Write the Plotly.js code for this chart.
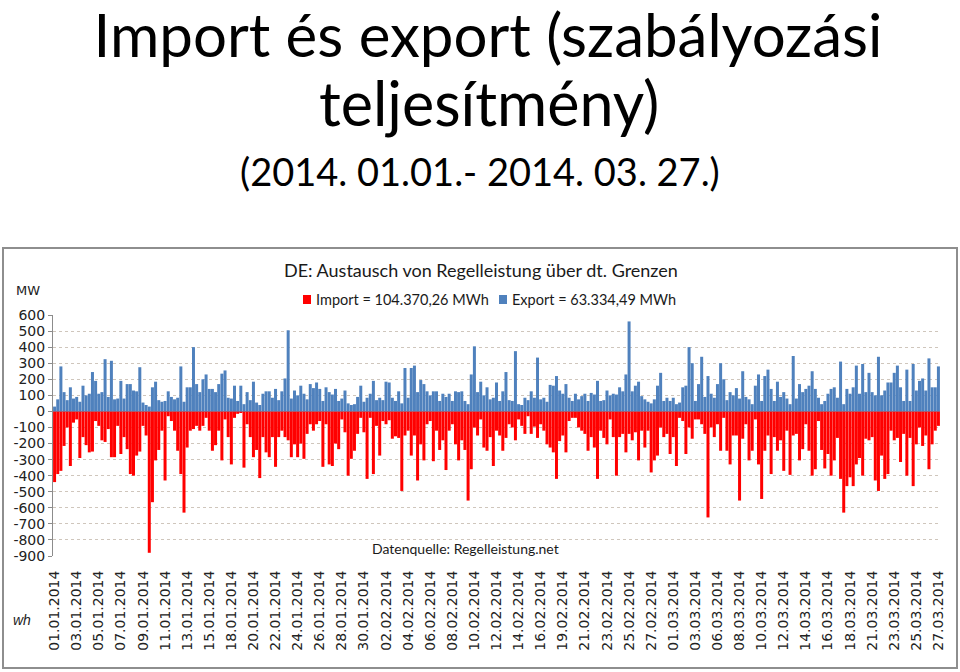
<!DOCTYPE html>
<html>
<head>
<meta charset="utf-8">
<script src="https://cdn.plot.ly/plotly-3.0.1.min.js"></script>
<style>
html,body{margin:0;padding:0;background:#fff;}
#chart{width:960px;height:672px;}
</style>
</head>
<body>
<div id="chart"></div>
<script>
// Tick labels (every 7th category)
const dateLabels = ['01.01.2014','03.01.2014','05.01.2014','07.01.2014','09.01.2014','11.01.2014','13.01.2014','15.01.2014','18.01.2014','20.01.2014','22.01.2014','24.01.2014','26.01.2014','28.01.2014','30.01.2014','02.02.2014','04.02.2014','06.02.2014','08.02.2014','10.02.2014','12.02.2014','14.02.2014','16.02.2014','19.02.2014','21.02.2014','23.02.2014','25.02.2014','27.02.2014','01.03.2014','03.03.2014','06.03.2014','08.03.2014','10.03.2014','12.03.2014','14.03.2014','16.03.2014','18.03.2014','21.03.2014','23.03.2014','25.03.2014','27.03.2014'];
const yTicks = [600,500,400,300,200,100,0,-100,-200,-300,-400,-500,-600,-700,-800,-900];

// Export (MW, positive)
const exportMW = [
30,75,280,120,70,150,80,90,60,160,
100,110,245,190,110,120,325,90,315,75,
80,190,80,170,170,130,125,275,55,40,
30,150,185,70,60,65,125,90,75,85,
280,60,150,150,400,170,120,200,230,140,
140,120,170,235,255,85,80,160,65,160,
45,120,70,185,55,40,110,125,125,85,
140,70,125,205,505,80,130,100,160,110,
75,170,145,180,140,65,150,120,105,140,
65,80,130,50,40,45,90,160,60,85,
110,190,70,85,70,185,180,85,65,125,
50,270,85,270,285,120,195,170,125,100,
125,125,65,110,90,110,65,125,120,125,
65,45,230,405,120,185,100,150,75,85,
180,65,125,245,70,65,375,45,40,85,
70,125,85,335,75,85,60,165,160,220,
130,110,170,85,65,110,75,95,110,65,
115,105,190,65,70,130,100,110,105,150,
125,230,560,125,160,185,95,75,60,50,
75,160,240,65,85,65,85,45,55,150,
160,400,300,65,170,340,90,220,110,85,
170,300,200,70,120,100,145,80,250,90,
75,45,160,230,65,220,260,140,65,185,
90,120,80,45,345,80,170,120,140,160,
250,140,85,45,65,110,140,150,85,310,
45,140,110,150,285,110,295,120,240,120,
100,340,100,130,180,180,240,285,150,65,
260,65,295,130,190,205,130,330,150,150,
280];

// Import (MW, negative)
const importMW = [
-440,-390,-370,-215,-100,-340,-70,-50,-290,-160,
-210,-255,-250,-60,-90,-180,-190,-110,-285,-285,
-90,-265,-160,-235,-390,-400,-275,-250,-90,-150,
-880,-565,-305,-240,-120,-430,-30,-60,-120,-245,
-390,-630,-225,-120,-110,-90,-120,-90,-40,-120,
-245,-210,-120,-305,-50,-160,-330,-40,-15,-10,
-350,-80,-160,-285,-240,-415,-160,-255,-285,-160,
-345,-160,-120,-160,-180,-285,-205,-285,-200,-295,
-140,-80,-120,-80,-60,-345,-80,-330,-340,-200,
-235,-50,-130,-400,-295,-245,-140,-40,-130,-420,
-40,-390,-90,-275,-60,-80,-55,-170,-155,-165,
-495,-150,-120,-275,-150,-430,-205,-305,-80,-60,
-310,-120,-240,-180,-365,-120,-80,-205,-305,-180,
-240,-555,-360,-100,-150,-50,-225,-245,-160,-340,
-120,-150,-245,-165,-80,-100,-180,-50,-90,-140,
-30,-140,-95,-165,-80,-120,-205,-225,-255,-420,
-185,-150,-255,-60,-40,-40,-100,-120,-140,-245,
-160,-225,-420,-120,-165,-205,-50,-160,-400,-160,
-140,-255,-140,-180,-130,-305,-120,-225,-120,-380,
-305,-275,-100,-160,-140,-265,-160,-340,-40,-60,
-265,-100,-170,-50,-50,-80,-140,-660,-100,-160,
-80,-245,-40,-245,-330,-150,-150,-555,-170,-80,
-305,-245,-50,-330,-545,-245,-150,-390,-160,-245,
-180,-370,-120,-395,-150,-140,-305,-235,-80,-245,
-400,-360,-60,-240,-355,-265,-400,-305,-165,-420,
-630,-465,-410,-465,-330,-290,-400,-170,-180,-160,
-430,-495,-275,-420,-390,-120,-180,-165,-315,-140,
-400,-165,-465,-205,-100,-215,-150,-360,-205,-120,
-90];

const labelStep = 7;
const idx = exportMW.map((_, i) => i);
const tickPos = dateLabels.map((_, k) => k * labelStep);

// pixel helpers for decorations (plot area: x 53..940, y 315..556)
const L = 53, R = 940, T = 315, B = 556;
const px = v => (v - L) / (R - L);
const py = v => (B - v) / (B - T);

const traces = [
  {type:'bar', name:'Import', x: idx, y: importMW, marker:{color:'#FF0000', line:{width:0}}, showlegend:false, hoverinfo:'y'},
  {type:'bar', name:'Export', x: idx, y: exportMW, marker:{color:'#4F81BD', line:{width:0}}, showlegend:false, hoverinfo:'y'}
];

const layout = {
  width: 960, height: 672,
  paper_bgcolor:'#ffffff', plot_bgcolor:'#ffffff',
  margin:{l:L, r:960-R, t:T, b:672-B, pad:0},
  barmode:'relative', bargap:0.05,
  title:{text:'Import és export (szabályozási', font:{family:'Lato', size:60, color:'#000'}, x:488/960, xanchor:'center', y:1-36/672, yanchor:'middle', yref:'container', xref:'container'},
  xaxis:{range:[-0.5, exportMW.length-0.5], tickvals: tickPos, ticktext: dateLabels, tickangle:-90,
         tickfont:{family:'DejaVu Sans', size:14, color:'#222'}, showgrid:false, zeroline:false, showline:false,
         ticks:'outside', ticklen:8, tickcolor:'rgba(0,0,0,0)', fixedrange:true},
  yaxis:{range:[-900,600], tickvals: yTicks, ticktext: yTicks.map(String),
         tickfont:{family:'DejaVu Sans', size:14, color:'#222'},
         showgrid:true, gridcolor:'#CFC6BC', griddash:'dot', gridwidth:1,
         zeroline:true, zerolinecolor:'#A0A0A0', zerolinewidth:1.5,
         showline:true, linecolor:'#8C8C8C', linewidth:1, ticks:'outside', ticklen:4, tickcolor:'#8C8C8C', fixedrange:true},
  shapes:[
    {type:'rect', xref:'paper', yref:'paper', x0:px(3), x1:px(957), y0:py(248), y1:py(668), line:{color:'#8E8E8E', width:2}, fillcolor:'rgba(0,0,0,0)', layer:'below'},
    {type:'rect', xref:'paper', yref:'paper', x0:px(303), x1:px(311), y0:py(295), y1:py(304), line:{width:0}, fillcolor:'#FF0000'},
    {type:'rect', xref:'paper', yref:'paper', x0:px(499), x1:px(507), y0:py(295), y1:py(304), line:{width:0}, fillcolor:'#4F81BD'}
  ],
  annotations:[
    {xref:'paper', yref:'paper', x:px(489), y:py(102), text:'teljesítmény)', showarrow:false, xanchor:'center', yanchor:'middle', font:{family:'Lato', size:61, color:'#000'}},
    {xref:'paper', yref:'paper', x:px(480), y:py(171), text:'(2014. 01.01.- 2014. 03. 27.)', showarrow:false, xanchor:'center', yanchor:'middle', font:{family:'Lato', size:38, color:'#000'}},
    {xref:'paper', yref:'paper', x:px(481), y:py(270), text:'DE: Austausch von Regelleistung über dt. Grenzen', showarrow:false, xanchor:'center', yanchor:'middle', font:{family:'Lato', size:18, color:'#1a1a1a'}},
    {xref:'paper', yref:'paper', x:px(314), y:py(299), text:'Import = 104.370,26 MWh', showarrow:false, xanchor:'left', yanchor:'middle', font:{family:'Lato', size:14.5, color:'#1a1a1a'}},
    {xref:'paper', yref:'paper', x:px(510), y:py(299), text:'Export = 63.334,49 MWh', showarrow:false, xanchor:'left', yanchor:'middle', font:{family:'Lato', size:14.5, color:'#1a1a1a'}},
    {xref:'paper', yref:'paper', x:px(465), y:py(548), text:'Datenquelle: Regelleistung.net', showarrow:false, xanchor:'center', yanchor:'middle', font:{family:'Lato', size:14, color:'#1a1a1a'}},
    {xref:'paper', yref:'paper', x:px(28), y:py(290), text:'MW', showarrow:false, xanchor:'center', yanchor:'middle', font:{family:'DejaVu Sans', size:13, color:'#222'}},
    {xref:'paper', yref:'paper', x:px(22), y:py(620), text:'<i>wh</i>', showarrow:false, xanchor:'center', yanchor:'middle', font:{family:'Liberation Sans', size:14, color:'#222'}}
  ]
};

Plotly.newPlot('chart', traces, layout, {displayModeBar:false, staticPlot:true});
</script>
</body>
</html>
